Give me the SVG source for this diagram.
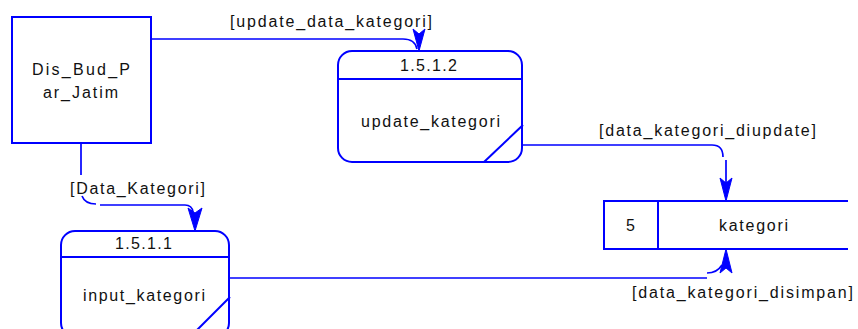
<svg xmlns="http://www.w3.org/2000/svg" width="858" height="329" viewBox="0 0 858 329">
<style>
.n{fill:#fff;stroke:#0000ff;stroke-width:2}
.ln{fill:none;stroke:#0000ff;stroke-width:2}
.c{fill:none;stroke:#0000ff;stroke-width:1.7}
.ah{fill:#0000ff;stroke:#0000ff;stroke-width:1;stroke-linejoin:miter}
text{font-family:"Liberation Sans",Arial,sans-serif;font-size:16px;fill:#111}
</style>
<rect width="858" height="329" fill="#fff"/>
<g id="connectors">
  <path class="c" d="M151,39 H403 Q415,39 417,49"/>
  <polygon class="ah" points="419,51 413,29 419,34 425,29"/>
  <path class="c" d="M522,145 H712 Q723,145 723,157"/>
  <path class="c" d="M726,160 V190"/>
  <polygon class="ah" points="726,201 720,178 726,183 732,178"/>
  <path class="c" d="M81,143 V175"/>
  <path class="c" d="M82,196 Q85,204 96,204"/>
  <path class="c" d="M100,205 H185 Q192,205 193,212"/>
  <polygon class="ah" points="195,231 188,208 195,213 202,208"/>
  <path class="c" d="M229,278 H707"/>
  <path class="c" d="M707,273 Q717,273 722,265"/>
  <polygon class="ah" points="726,249 720,273 726,268 732,273"/>
</g>
<g id="ext-disbudpar">
  <rect class="n" x="12" y="17" width="139" height="126"/>
  <text x="32" y="75" textLength="98" lengthAdjust="spacing">Dis_Bud_P</text>
  <text x="43" y="98" textLength="75" lengthAdjust="spacing">ar_Jatim</text>
</g>
<g id="proc-1512">
  <rect class="n" x="338" y="51" width="184" height="111" rx="14"/>
  <line class="ln" x1="338" y1="79" x2="522" y2="79"/>
  <line class="ln" x1="484" y1="162" x2="523" y2="125"/>
  <text x="400" y="71" textLength="57" lengthAdjust="spacing">1.5.1.2</text>
  <text x="361" y="127" textLength="139" lengthAdjust="spacing">update_kategori</text>
</g>
<g id="proc-1511">
  <rect class="n" x="61" y="231" width="168" height="106" rx="14"/>
  <line class="ln" x1="61" y1="257" x2="229" y2="257"/>
  <line class="ln" x1="230" y1="297" x2="191" y2="336"/>
  <text x="115" y="249" textLength="57" lengthAdjust="spacing">1.5.1.1</text>
  <text x="83" y="301" textLength="122" lengthAdjust="spacing">input_kategori</text>
</g>
<g id="store-kategori">
  <path class="ln" d="M848,201 H604 V249 H848 M658,201 V249"/>
  <text x="626" y="231">5</text>
  <text x="719" y="231" textLength="69" lengthAdjust="spacing">kategori</text>
</g>
<g id="labels">
  <text x="230" y="27" textLength="202" lengthAdjust="spacing">[update_data_kategori]</text>
  <text x="599" y="136" textLength="217" lengthAdjust="spacing">[data_kategori_diupdate]</text>
  <text x="70" y="194" textLength="135" lengthAdjust="spacing">[Data_Kategori]</text>
  <text x="632" y="298" textLength="221" lengthAdjust="spacing">[data_kategori_disimpan]</text>
</g>
</svg>
